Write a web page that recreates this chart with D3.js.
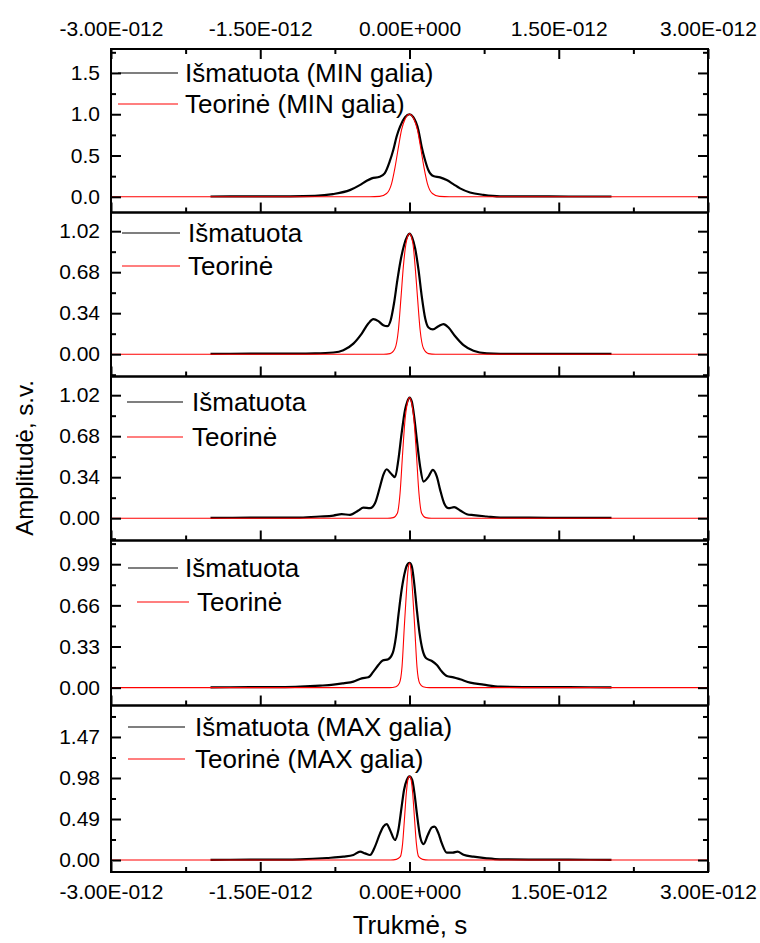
<!DOCTYPE html>
<html>
<head>
<meta charset="utf-8">
<script src="https://cdn.jsdelivr.net/npm/d3@7"></script>
<style>
  html, body { margin: 0; padding: 0; background: #fff; }
  svg { display: block; }
  text { font-family: "Liberation Sans", Arial, sans-serif; fill: #000; }
</style>
</head>
<body>
<svg id="chart" width="760" height="943"></svg>
<script>
// ---- Data (time in ps, amplitude in arbitrary units) ----
const xTickValues = [-3e-12, -1.5e-12, 0, 1.5e-12, 3e-12];
const xMinorValues = [-2.25e-12, -0.75e-12, 0.75e-12, 2.25e-12];

// Panel 1 – minimum power
const measMinT = [-2.00,-1.60,-1.20,-0.95,-0.77,-0.60,-0.50,-0.43,-0.38,-0.30,-0.25,-0.20,-0.163,-0.13,-0.095,-0.045,0,0.038,0.089,0.122,0.156,0.189,0.239,0.307,0.374,0.44,0.508,0.608,0.742,0.91,1.20,1.60,2.03];
const measMinA = [0.004,0.005,0.006,0.012,0.033,0.081,0.142,0.194,0.223,0.243,0.284,0.425,0.567,0.728,0.85,0.964,1.0,0.964,0.81,0.607,0.445,0.324,0.251,0.235,0.203,0.154,0.102,0.053,0.024,0.006,0.005,0.004,0.004];
const theoMinT = [-3,-0.40,-0.30,-0.23,-0.18,-0.145,-0.11,-0.08,-0.045,0,0.045,0.08,0.11,0.145,0.18,0.23,0.30,0.40,3];
const theoMinA = [0,0,0.005,0.04,0.16,0.36,0.61,0.81,0.94,1.0,0.94,0.81,0.61,0.36,0.16,0.04,0.005,0,0];

// Panel 2
const meas2T = [-2.00,-1.60,-1.20,-0.95,-0.765,-0.665,-0.564,-0.48,-0.414,-0.363,-0.313,-0.263,-0.223,-0.189,-0.156,-0.122,-0.089,-0.055,-0.022,0,0.027,0.057,0.091,0.124,0.158,0.191,0.235,0.291,0.342,0.392,0.459,0.543,0.643,0.777,0.911,1.2,1.6,2.03];
const meas2A = [0.003,0.004,0.005,0.007,0.014,0.033,0.088,0.171,0.254,0.29,0.274,0.24,0.232,0.282,0.42,0.614,0.779,0.904,0.978,1.0,0.967,0.876,0.697,0.475,0.296,0.221,0.205,0.232,0.249,0.221,0.149,0.075,0.028,0.006,0.003,0.003,0.003,0.003];
const theo2T = [-3,-0.26,-0.196,-0.146,-0.112,-0.085,-0.062,-0.035,0,0.034,0.057,0.08,0.107,0.141,0.191,0.26,3];
const theo2A = [0,0,0.005,0.047,0.199,0.475,0.724,0.918,1.0,0.918,0.724,0.475,0.199,0.047,0.005,0,0];

// Panel 3
const meas3T = [-2.00,-1.60,-1.25,-1.10,-0.899,-0.765,-0.681,-0.598,-0.514,-0.464,-0.397,-0.347,-0.296,-0.263,-0.229,-0.189,-0.146,-0.112,-0.079,-0.045,-0.022,0,0.023,0.047,0.074,0.107,0.141,0.191,0.235,0.275,0.308,0.348,0.392,0.449,0.509,0.576,0.643,0.777,0.911,1.2,1.6,2.03];
const meas3A = [0.003,0.004,0.004,0.005,0.014,0.022,0.033,0.028,0.064,0.088,0.083,0.124,0.263,0.359,0.406,0.373,0.34,0.484,0.705,0.898,0.967,1.0,0.967,0.843,0.649,0.428,0.304,0.345,0.401,0.345,0.235,0.124,0.083,0.091,0.064,0.033,0.025,0.014,0.005,0.004,0.003,0.003];
const theo3T = [-3,-0.22,-0.163,-0.122,-0.095,-0.069,-0.045,-0.022,0,0.022,0.045,0.069,0.095,0.122,0.163,0.22,3];
const theo3A = [0,0,0.005,0.041,0.207,0.539,0.815,0.953,1.0,0.953,0.815,0.539,0.207,0.041,0.005,0,0];

// Panel 4
const meas4T = [-2.00,-1.60,-1.25,-1.10,-0.899,-0.765,-0.665,-0.564,-0.48,-0.414,-0.363,-0.313,-0.27,-0.213,-0.169,-0.136,-0.109,-0.079,-0.045,-0.022,0,0.023,0.047,0.074,0.101,0.131,0.168,0.225,0.275,0.325,0.375,0.442,0.509,0.61,0.744,0.911,1.2,1.6,2.03];
const meas4A = [0.003,0.004,0.005,0.008,0.016,0.024,0.035,0.048,0.075,0.083,0.129,0.182,0.217,0.228,0.276,0.41,0.597,0.785,0.932,0.986,1.0,0.973,0.839,0.624,0.437,0.303,0.236,0.214,0.182,0.129,0.094,0.083,0.067,0.04,0.024,0.008,0.005,0.004,0.003];
const theo4T = [-3,-0.2,-0.136,-0.102,-0.075,-0.052,-0.029,-0.015,0,0.015,0.029,0.052,0.075,0.102,0.136,0.2,3];
const theo4A = [0,0,0.008,0.035,0.169,0.49,0.79,0.94,1.0,0.94,0.79,0.49,0.169,0.035,0.008,0,0];

// Panel 5 – maximum power
const measMaxT = [-2.00,-1.60,-1.25,-1.10,-0.832,-0.665,-0.564,-0.497,-0.447,-0.397,-0.347,-0.296,-0.263,-0.229,-0.196,-0.146,-0.112,-0.079,-0.055,-0.027,0,0.027,0.05,0.074,0.107,0.141,0.184,0.225,0.251,0.291,0.325,0.375,0.435,0.482,0.543,0.643,0.777,0.911,1.2,1.6,2.03];
const measMaxA = [0.003,0.004,0.005,0.008,0.024,0.04,0.06,0.10,0.08,0.06,0.16,0.319,0.398,0.43,0.359,0.239,0.359,0.637,0.837,0.956,1.0,0.956,0.797,0.558,0.279,0.191,0.299,0.39,0.398,0.319,0.199,0.088,0.088,0.10,0.064,0.04,0.02,0.008,0.005,0.004,0.003];
const theoMaxT = [-3,-0.19,-0.132,-0.092,-0.069,-0.049,-0.032,-0.017,0,0.017,0.032,0.049,0.069,0.092,0.132,0.19,3];
const theoMaxA = [0,0,0.008,0.04,0.199,0.518,0.797,0.956,1.0,0.956,0.797,0.518,0.199,0.04,0.008,0,0];

// Y ticks of each panel
const yTicks1 = [0, 0.5, 1.0, 1.5];
const yTicks2 = [0, 0.34, 0.68, 1.02];
const yTicks3 = [0, 0.34, 0.68, 1.02];
const yTicks4 = [0, 0.33, 0.66, 0.99];
const yTicks5 = [0, 0.49, 0.98, 1.47];

const legendMin = ["Išmatuota (MIN galia)", "Teorinė (MIN galia)"];
const legendMid = ["Išmatuota", "Teorinė"];
const legendMax = ["Išmatuota (MAX galia)", "Teorinė (MAX galia)"];

// ---- Layout ----
const svg = d3.select("#chart");
const plotL = 111, plotR = 708;
const bounds = [49, 212.5, 376.5, 540.5, 705.5, 872];

const panels = [
  { meas: [measMinT, measMinA], theo: [theoMinT, theoMinA], ticks: yTicks1, dom: [-0.19, 1.79], fmt: ".1f",
    legend: legendMin, leg: { y1: 73, y2: 104, b: [118, 178, 185], r: [118, 178, 185] } },
  { meas: [meas2T, meas2A], theo: [theo2T, theo2A], ticks: yTicks2, dom: [-0.185, 1.175], fmt: ".2f",
    legend: legendMid, leg: { y1: 233, y2: 266, b: [122, 180, 188], r: [122, 180, 188] } },
  { meas: [meas3T, meas3A], theo: [theo3T, theo3A], ticks: yTicks3, dom: [-0.185, 1.175], fmt: ".2f",
    legend: legendMid, leg: { y1: 402, y2: 437, b: [127, 183, 192], r: [127, 183, 192] } },
  { meas: [meas4T, meas4A], theo: [theo4T, theo4A], ticks: yTicks4, dom: [-0.143, 1.18], fmt: ".2f",
    legend: legendMid, leg: { y1: 568, y2: 602, b: [128, 178, 185], r: [137, 189, 197] } },
  { meas: [measMaxT, measMaxA], theo: [theoMaxT, theoMaxA], ticks: yTicks5, dom: [-0.143, 1.846], fmt: ".2f",
    legend: legendMax, leg: { y1: 727, y2: 759, b: [128, 185, 195], r: [128, 185, 195] } }
];

const x = d3.scaleLinear().domain([-3e-12, 3e-12]).range([plotL, plotR]);

function sciLabel(v) {
  if (v === 0) return "0.00E+000";
  const e = Math.floor(Math.log10(Math.abs(v)) + 1e-9);
  const m = v / Math.pow(10, e);
  const es = (e < 0 ? "-" : "+") + String(Math.abs(e)).padStart(3, "0");
  return m.toFixed(2) + "E" + es;
}

function styleAxis(g) {
  g.select(".domain").remove();
  g.selectAll(".tick line").attr("stroke", "#000").attr("stroke-width", 2);
  g.selectAll(".tick text").style("font-size", "21px").style("font-family", '"Liberation Sans", Arial, sans-serif').attr("fill", "#000");
}

panels.forEach((p, i) => {
  const top = bounds[i], bot = bounds[i + 1];
  const y = d3.scaleLinear().domain(p.dom).range([bot, top]);
  const step = p.ticks[1] - p.ticks[0];
  const minor = [];
  for (let k = -1; k < p.ticks.length + 1; k++) {
    const v = p.ticks[0] + (k + 0.5) * step;
    if (v > p.dom[0] && v < p.dom[1]) minor.push(v);
  }

  const g = svg.append("g");
  const clipId = "clip" + i;
  g.append("clipPath").attr("id", clipId).append("rect")
    .attr("x", plotL).attr("y", top).attr("width", plotR - plotL).attr("height", bot - top);

  const line = d3.line()
    .x(d => x(d[0] * 1e-12))
    .y(d => y(d[1]))
    .curve(d3.curveMonotoneX);

  const measPts = p.meas[0].map((t, j) => [t, p.meas[1][j]]);
  const theoPts = p.theo[0].map((t, j) => [t, p.theo[1][j]]);

  const plot = g.append("g").attr("clip-path", `url(#${clipId})`);
  plot.append("path").datum(measPts).attr("d", line)
    .attr("fill", "none").attr("stroke", "#000").attr("stroke-width", 2.2).attr("stroke-linejoin", "round");
  plot.append("path").datum(theoPts).attr("d", line)
    .attr("fill", "none").attr("stroke", "#ff0000").attr("stroke-width", 1.1);

  // left axis (labels + inward ticks)
  g.append("g").attr("transform", `translate(${plotL},0)`)
    .call(d3.axisLeft(y).tickValues(p.ticks).tickSize(-10).tickPadding(11).tickFormat(d3.format(p.fmt)))
    .call(styleAxis);
  g.append("g").attr("transform", `translate(${plotL},0)`)
    .call(d3.axisLeft(y).tickValues(minor).tickSize(-5).tickFormat(""))
    .call(styleAxis);
  // right axis
  g.append("g").attr("transform", `translate(${plotR},0)`)
    .call(d3.axisRight(y).tickValues(p.ticks).tickSize(-10).tickFormat(""))
    .call(styleAxis);
  g.append("g").attr("transform", `translate(${plotR},0)`)
    .call(d3.axisRight(y).tickValues(minor).tickSize(-5).tickFormat(""))
    .call(styleAxis);
  // bottom ticks of the panel
  g.append("g").attr("transform", `translate(0,${bot})`)
    .call(d3.axisBottom(x).tickValues(xTickValues).tickSize(-10).tickPadding(12).tickFormat(i === 4 ? sciLabel : ""))
    .call(styleAxis);
  g.append("g").attr("transform", `translate(0,${bot})`)
    .call(d3.axisBottom(x).tickValues(xMinorValues).tickSize(-5).tickFormat(""))
    .call(styleAxis);
  if (i === 0) {
    g.append("g").attr("transform", `translate(0,${top})`)
      .call(d3.axisTop(x).tickValues(xTickValues).tickSize(-10).tickPadding(13).tickFormat(sciLabel))
      .call(styleAxis);
    g.append("g").attr("transform", `translate(0,${top})`)
      .call(d3.axisTop(x).tickValues(xMinorValues).tickSize(-5).tickFormat(""))
      .call(styleAxis);
  }

  // frame
  g.append("rect").attr("x", plotL).attr("y", top).attr("width", plotR - plotL).attr("height", bot - top)
    .attr("fill", "none").attr("stroke", "#000").attr("stroke-width", 2);

  // legend
  const L = p.leg;
  g.append("line").attr("x1", L.b[0]).attr("x2", L.b[1]).attr("y1", L.y1).attr("y2", L.y1)
    .attr("stroke", "#000").attr("stroke-width", 1.1);
  g.append("line").attr("x1", L.r[0]).attr("x2", L.r[1]).attr("y1", L.y2).attr("y2", L.y2)
    .attr("stroke", "#ff0000").attr("stroke-width", 1.1);
  g.append("text").attr("x", L.b[2]).attr("y", L.y1).attr("dy", "0.35em")
    .style("font-size", "26px").text(p.legend[0]);
  g.append("text").attr("x", L.r[2]).attr("y", L.y2).attr("dy", "0.35em")
    .style("font-size", "26px").text(p.legend[1]);
});

// axis titles
svg.append("text")
  .attr("transform", "translate(25,458) rotate(-90)")
  .attr("text-anchor", "middle").attr("dy", "0.35em")
  .style("font-size", "24px").text("Amplitudė, s.v.");
svg.append("text")
  .attr("x", 410).attr("y", 925).attr("text-anchor", "middle").attr("dy", "0.35em")
  .style("font-size", "26px").text("Trukmė, s");
</script>
</body>
</html>
